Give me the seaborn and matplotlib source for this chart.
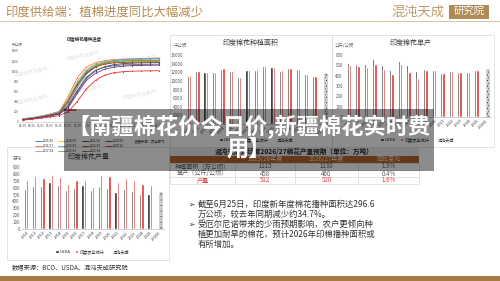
"""
印度供给端：植棉进度 / 种植面积 / 单产 / 产量 — slide recreation.
"""

import matplotlib
matplotlib.use("Agg")
import numpy as np
import pandas as pd
import matplotlib.pyplot as plt
import seaborn as sns
from matplotlib.patches import Rectangle

# ── Data ─────────────────────────────────────────────────────────────────────
YEARS = [str(y) for y in range(2010, 2026)] + ["2026E"]
SOURCES = ["USDA", "印度农业统计", "混沌天成"]

AREA_USDA = [11230, 12330, 12090, 12090, 12860, 12330, 10860, 12560,
             12560, 13490, 13260, 12400, 12950, 12720, 11560, 11160]
AREA_IND = [11300, 12250, 12000, 12050, 12900, 12250, 10900, 12600,
            12650, 13450, 13200, 12450, 13000, 12780, 11500, 11100]
AREA_FC = 11600

YIELD_USDA = [523, 512, 517, 566, 505, 456, 544, 502,
              447, 463, 450, 427, 444, 437, 440, 456]
YIELD_IND = [502, 492, 485, 515, 463, 417, 515, 440,
             379, 456, 450, 427, 444, 437, 440, 450]
YIELD_FC = 450

PROD_USDA = [584, 628, 618, 675, 642, 565, 588, 632,
             565, 618, 598, 530, 574, 555, 507, 511]
PROD_IND = [715, 763, 744, 777, 753, 652, 710, 710,
            608, 787, 768, 675, 733, 710, 646, 638]
PROD_FC = 520

# 播种进度 (千公顷), weekly points
WEEKS = ["04/18", "04/25", "05/02", "05/09", "05/16", "05/23", "05/30", "06/06",
         "06/13", "06/20", "06/27", "07/04", "07/11", "07/18", "07/25", "08/01"]
SEASONS = ["2015/16", "2016/17", "2017/18", "2018/19", "2019/20", "2020/21",
           "2021/22", "2022/23", "2023/24", "2024/25", "2025/26"]
PROGRESS = {
    "2015/16": [60, 80, 110, 150, 200, 420, 750, 980, 1100, 1160, 1190, 1200, 1205, 1210, 1212, 1215],
    "2016/17": [50, 70, 100, 140, 190, 500, 870, 1080, 1170, 1210, 1230, 1240, 1245, 1250, 1255, 1265],
    "2017/18": [55, 75, 105, 145, 195, 450, 800, 1030, 1140, 1190, 1215, 1225, 1230, 1235, 1237, 1240],
    "2018/19": [45, 65, 95, 130, 180, 380, 700, 950, 1080, 1140, 1170, 1185, 1190, 1195, 1197, 1200],
    "2019/20": [40, 60, 90, 125, 170, 350, 680, 940, 1090, 1170, 1210, 1230, 1240, 1245, 1248, 1250],
    "2020/21": [50, 70, 100, 135, 185, 420, 760, 1000, 1120, 1170, 1195, 1205, 1210, 1212, 1214, 1215],
    "2021/22": [35, 55, 85, 120, 160, 300, 600, 860, 1010, 1090, 1130, 1150, 1160, 1165, 1168, 1170],
    "2022/23": [45, 65, 95, 130, 175, 400, 730, 960, 1090, 1140, 1165, 1175, 1180, 1182, 1184, 1185],
    "2023/24": [40, 60, 90, 120, 165, 320, 620, 880, 1020, 1080, 1110, 1125, 1130, 1135, 1137, 1140],
    "2024/25": [35, 55, 80, 110, 150, 280, 560, 820, 960, 1040, 1080, 1100, 1110, 1115, 1118, 1120],
    "2025/26": [30, 50, 70, 95, 120, 200, 400, 650, 820, 920, 970, 990, 1000, 1005, 1008, 1010],
}
SEASON_COLORS = ["#4472c4", "#ed7d31", "#a5a5a5", "#ffc000", "#5b9bd5", "#70ad47",
                 "#264478", "#9e480e", "#636363", "#7030a0", "#e03030"]

TABLE_HEAD = ["", "2025/26年度", "2026/27年度", "同比变化"]
TABLE_ROWS = [["种植面积（万公顷）", "1115", "1130", "1.3%"],
              ["单产（公斤/公顷）", "458", "460", "0.4%"],
              ["产量", "512", "520", "1.6%"]]

BULLETS = ["截至6月25日，印度新年度棉花播种面积达296.6",
           "万公顷，较去年同期减少约34.7%。",
           "受厄尔尼诺带来的少雨预期影响，农户更倾向种",
           "植更加耐旱的棉花，预计2026年印棉播种面积或",
           "有所增加。"]

# ── Style ────────────────────────────────────────────────────────────────────
sns.set_theme(style="white")
plt.rcParams["font.family"] = ["Noto Sans CJK SC", "DejaVu Sans"]
plt.rcParams["hatch.linewidth"] = 0.35
plt.rcParams["axes.unicode_minus"] = False

W, H = 500, 281
TAN = "#b58a52"
BAR_COLORS = ["#1c1c1c", "#e8322d", "white"]

fig = plt.figure(figsize=(W / 100, H / 100), dpi=100)


def px_box(x0, y0, x1, y1):
    return [x0 / W, 1 - y1 / H, (x1 - x0) / W, (y1 - y0) / H]


# background / decoration layer in pixel coordinates
bg = fig.add_axes([0, 0, 1, 1], zorder=0)
bg.set_xlim(0, W)
bg.set_ylim(H, 0)
bg.axis("off")

bg.text(5, 12, "印度供给端：植棉进度同比大幅减少", fontsize=8.9, color=TAN,
        va="center", ha="left")
bg.plot([0, W], [21, 21], color="#dcc7a6", lw=0.8)
bg.text(391, 12, "混沌天成", fontsize=9.5, color="#c09b6a", va="center", ha="left")
bg.add_patch(Rectangle((449, 5), 40, 14, color="#b08a55", lw=0))
bg.text(469, 12, "研究院", fontsize=7.5, color="white", va="center", ha="center")
bg.add_patch(Rectangle((0, 276), W, 5, color="#a67c45", lw=0))

# panel frames
for (x0, y0, x1, y1) in [(170, 35, 332, 147), (332, 35, 494, 147), (7, 147, 169, 260)]:
    bg.add_patch(Rectangle((x0, y0), x1 - x0, y1 - y0, fill=False,
                           ec="#d9d9d9", lw=0.5))

bg.text(251, 43, "印度棉花种植面积", fontsize=5, color="#404040", ha="center", va="center")
bg.text(174, 45, "千公顷", fontsize=3.2, color="#595959", ha="left", va="center")
bg.text(411, 43, "印度棉花单产", fontsize=5, color="#404040", ha="center", va="center")
bg.text(335, 45, "公斤/公顷", fontsize=3.2, color="#595959", ha="left", va="center")
bg.text(68, 157, "印度棉花产量", fontsize=5, color="#404040", ha="left", va="center")
bg.text(13, 158, "万吨", fontsize=3.2, color="#595959", ha="left", va="center")
bg.text(12, 268, "数据来源：BCO、USDA、混沌天成研究院", fontsize=4.5, color="#333333",
        ha="left", va="center")

# line-chart headers and watermarks
bg.text(84, 39, "印度棉花播种进度", fontsize=3.2, color="#333333", ha="center",
        va="center", fontweight="bold")
bg.text(12, 45, "千公顷", fontsize=2.6, color="#595959", ha="left", va="center")
for (wx, wy) in [(83, 56), (32, 72), (85, 90), (140, 60), (140, 95), (32, 100)]:
    bg.text(wx, wy, "中国棉花信息网", fontsize=3.5, color="#e6e6e6", rotation=12,
            ha="center", va="center")
bg.text(150, 142, "数据来源：农业部门", fontsize=2.4, color="#333333", ha="center",
        va="center")

# table
cols = [170, 235, 295, 358, 419]
rows = [148, 155.5, 163, 170, 177, 184]
bg.add_patch(Rectangle((cols[0], rows[0]), cols[-1] - cols[0], rows[1] - rows[0],
                       color="#ececec", lw=0))
bg.text((cols[0] + cols[-1]) / 2, (rows[0] + rows[1]) / 2,
        "混沌天成对印度2026/27棉花产量预期（单位：万吨）", fontsize=4.8,
        color="#262626", fontweight="bold", ha="center", va="center")
bg.add_patch(Rectangle((cols[0], rows[1]), cols[-1] - cols[0], rows[2] - rows[1],
                       color="#b5652a", lw=0))
for j, txt in enumerate(TABLE_HEAD):
    bg.text((cols[j] + cols[j + 1]) / 2, (rows[1] + rows[2]) / 2, txt, fontsize=4.4,
            color="#f7e9da", ha="center", va="center")
for i, row in enumerate(TABLE_ROWS):
    color = "#e53935" if i == len(TABLE_ROWS) - 1 else "#595959"
    for j, txt in enumerate(row):
        bg.text((cols[j] + cols[j + 1]) / 2, (rows[i + 2] + rows[i + 3]) / 2, txt,
                fontsize=4.4, color=color, ha="center", va="center")
for y in rows[2:]:
    bg.plot([cols[0], cols[-1]], [y, y], color="#cfcfcf", lw=0.4)
for x in cols:
    bg.plot([x, x], [rows[2], rows[-1]], color="#cfcfcf", lw=0.4)

# bullet text
bullet_y = [204, 214, 224, 234, 244.5]
for k, (txt, y) in enumerate(zip(BULLETS, bullet_y)):
    if k in (0, 2):
        bg.text(188, y, "➢", fontsize=5.5, color="#333333", ha="left", va="center",
                family=["DejaVu Sans"])
    bg.text(198, y, txt, fontsize=6, color="#333333", ha="left", va="center")


# ── Bar panels ───────────────────────────────────────────────────────────────
def bar_panel(box, usda, ind, fc, ymax, ystep, legend_px):
    ax = fig.add_axes(px_box(*box), zorder=1)
    ax.patch.set_alpha(0)
    recs = []
    for i, yr in enumerate(YEARS[:-1]):
        recs.append((yr, "USDA", usda[i]))
        recs.append((yr, "印度农业统计", ind[i]))
    recs.append((YEARS[-1], "混沌天成", fc))
    df = pd.DataFrame(recs, columns=["year", "source", "value"])
    sns.barplot(data=df, x="year", y="value", hue="source", order=YEARS,
                hue_order=SOURCES, palette=BAR_COLORS, width=0.8, ax=ax,
                saturation=1)
    for bar in ax.containers[2]:
        bar.set_hatch("......")
        bar.set_edgecolor("#222222")
        bar.set_linewidth(0.3)
    ax.set_ylim(0, ymax)
    ax.set_xlim(-0.6, len(YEARS) - 0.4)
    ax.set_yticks(np.arange(0, ymax + 1, ystep))
    ax.tick_params(axis="y", labelsize=3.2, length=0, pad=1.5, labelcolor="#595959")
    ax.tick_params(axis="x", labelsize=3, length=0, pad=1, labelcolor="#404040")
    plt.setp(ax.get_xticklabels(), rotation=45, ha="right", rotation_mode="anchor")
    ax.set_xlabel("")
    ax.set_ylabel("")
    sns.despine(ax=ax, left=True)
    ax.spines["bottom"].set_color("#bfbfbf")
    ax.spines["bottom"].set_linewidth(0.5)
    handles, labels = ax.get_legend_handles_labels()
    for hnd in handles:
        hnd.set_linewidth(0.3)
    ax.legend(handles, ["USDA", "印度农业统计", "混沌天成"], loc="center",
              bbox_to_anchor=(0.5, -(legend_px - box[3]) / (box[3] - box[1])),
              ncol=3, frameon=False, fontsize=3, handlelength=0.6,
              handleheight=0.6, handletextpad=0.3, columnspacing=1.2)
    return ax


bar_panel((185, 55, 329, 124), AREA_USDA, AREA_IND, AREA_FC, 16000, 2000, 140)
bar_panel((345, 55, 491, 117), YIELD_USDA, YIELD_IND, YIELD_FC, 600, 100, 140)
bar_panel((22, 166.7, 164, 229.3), PROD_USDA, PROD_IND, PROD_FC, 900, 100, 252)

# ── Line panel: 播种进度 ─────────────────────────────────────────────────────
lax = fig.add_axes(px_box(20, 51, 162, 121.7), zorder=1)
lax.patch.set_alpha(0)
long = pd.DataFrame([(s, w, PROGRESS[s][i]) for s in SEASONS for i, w in enumerate(WEEKS)],
                    columns=["season", "week", "value"])
sns.lineplot(data=long, x="week", y="value", hue="season", hue_order=SEASONS,
             palette=SEASON_COLORS, linewidth=0.6, marker="o", markersize=0.9,
             markeredgewidth=0, sort=False, ax=lax)
lax.set_ylim(0, 1400)
lax.set_xlim(-0.3, len(WEEKS) - 0.7)
lax.set_yticks(np.arange(0, 1401, 200))
lax.tick_params(axis="both", labelsize=2.2, length=0, pad=1, labelcolor="#595959")
lax.set_xlabel("")
lax.set_ylabel("")
sns.despine(ax=lax, left=True)
lax.spines["bottom"].set_color("#bfbfbf")
lax.spines["bottom"].set_linewidth(0.4)
lax.add_patch(plt.Circle((5.1, 230), 0.8, fill=False, ec="#e03030", lw=0.5,
                         transform=lax.transData))
handles, labels = lax.get_legend_handles_labels()
lax.legend(handles, labels, loc="upper center", bbox_to_anchor=(0.42, -0.2),
           ncol=4, frameon=False, fontsize=2.2, handlelength=2.2,
           handletextpad=0.4, columnspacing=1.4, labelspacing=0.35)

# ── Title banner overlay ─────────────────────────────────────────────────────
top = fig.add_axes([0, 0, 1, 1], zorder=10)
top.set_xlim(0, W)
top.set_ylim(H, 0)
top.axis("off")
top.patch.set_alpha(0)
top.add_patch(Rectangle((64, 109), 370, 62, color="black", alpha=0.45, lw=0))
top.text(249, 127, "【南疆棉花价今日价,新疆棉花实时费", fontsize=16, color="white",
         fontweight="bold", ha="center", va="center")
top.text(249, 150.5, "用】", fontsize=16, color="white", fontweight="bold",
         ha="center", va="center")

fig.savefig("out.png", dpi=100)
plt.close(fig)
